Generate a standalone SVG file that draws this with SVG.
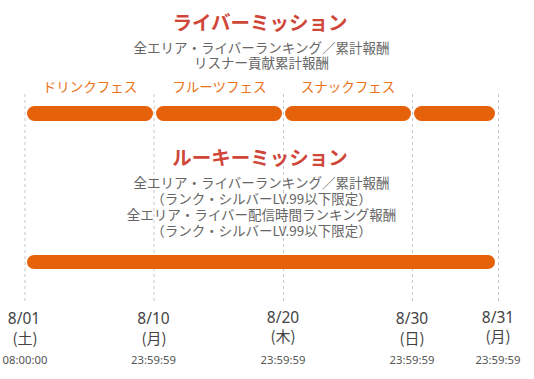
<svg xmlns="http://www.w3.org/2000/svg" width="534" height="379" viewBox="0 0 534 379">
<style>
text{font-family:"Noto Sans CJK JP","Noto Sans",sans-serif;text-anchor:middle}
.ttl{font-size:19.5px;font-weight:bold;fill:#d0473a}
.sub{font-size:13.5px;fill:#666}
.fes{font-size:13.5px;fill:#ea7318}
.date{font-family:"Noto Sans","Noto Sans CJK JP",sans-serif;font-size:15.5px;fill:#444}
.day{font-size:15px;fill:#444}
.time{font-family:"Noto Sans","Noto Sans CJK JP",sans-serif;font-size:11.3px;fill:#555}
.grid{stroke:#c8c8c8;stroke-width:1;stroke-dasharray:3 3;fill:none}
.bar{fill:#e5620a}
</style>
<g id="grid">
<line class="grid" x1="25" y1="94" x2="25" y2="302"/>
<line class="grid" x1="154" y1="94" x2="154" y2="302"/>
<line class="grid" x1="283.5" y1="94" x2="283.5" y2="302"/>
<line class="grid" x1="412.5" y1="94" x2="412.5" y2="302"/>
<line class="grid" x1="498.5" y1="94" x2="498.5" y2="302"/>
</g>
<g id="liver-mission">
<text class="ttl" x="260" y="30">ライバーミッション</text>
<text class="sub" x="261.5" y="53">全エリア・ライバーランキング／累計報酬</text>
<text class="sub" x="261.5" y="68">リスナー貢献累計報酬</text>
</g>
<g id="fes-drink">
<text class="fes" x="90" y="92">ドリンクフェス</text>
<rect class="bar" x="27" y="106" width="126" height="15" rx="7.5"/>
</g>
<g id="fes-fruit">
<text class="fes" x="219.5" y="92">フルーツフェス</text>
<rect class="bar" x="156" y="106" width="126" height="15" rx="7.5"/>
</g>
<g id="fes-snack">
<text class="fes" x="348" y="92">スナックフェス</text>
<rect class="bar" x="285" y="106" width="126" height="15" rx="7.5"/>
</g>
<g id="fes-last">
<rect class="bar" x="414" y="106" width="81" height="15" rx="7.5"/>
</g>
<g id="rookie-mission">
<text class="ttl" x="260" y="165">ルーキーミッション</text>
<text class="sub" x="261.5" y="188">全エリア・ライバーランキング／累計報酬</text>
<text class="sub" x="261.5" y="204">（ランク・シルバーLV.99以下限定）</text>
<text class="sub" x="261.5" y="220">全エリア・ライバー配信時間ランキング報酬</text>
<text class="sub" x="261.5" y="236">（ランク・シルバーLV.99以下限定）</text>
<rect class="bar" x="27" y="255" width="468" height="14" rx="7"/>
</g>
<g id="d0801">
<text class="date" x="24" y="324">8/01</text>
<text class="day" x="25" y="344">(土)</text>
<text class="time" x="25" y="364">08:00:00</text>
</g>
<g id="d0810">
<text class="date" x="153.5" y="324">8/10</text>
<text class="day" x="154" y="344">(月)</text>
<text class="time" x="153.5" y="364">23:59:59</text>
</g>
<g id="d0820">
<text class="date" x="283" y="323">8/20</text>
<text class="day" x="283" y="342">(木)</text>
<text class="time" x="283" y="364">23:59:59</text>
</g>
<g id="d0830">
<text class="date" x="412" y="324">8/30</text>
<text class="day" x="412" y="344">(日)</text>
<text class="time" x="412" y="364">23:59:59</text>
</g>
<g id="d0831">
<text class="date" x="498" y="323">8/31</text>
<text class="day" x="498" y="342">(月)</text>
<text class="time" x="498" y="364">23:59:59</text>
</g>
</svg>
